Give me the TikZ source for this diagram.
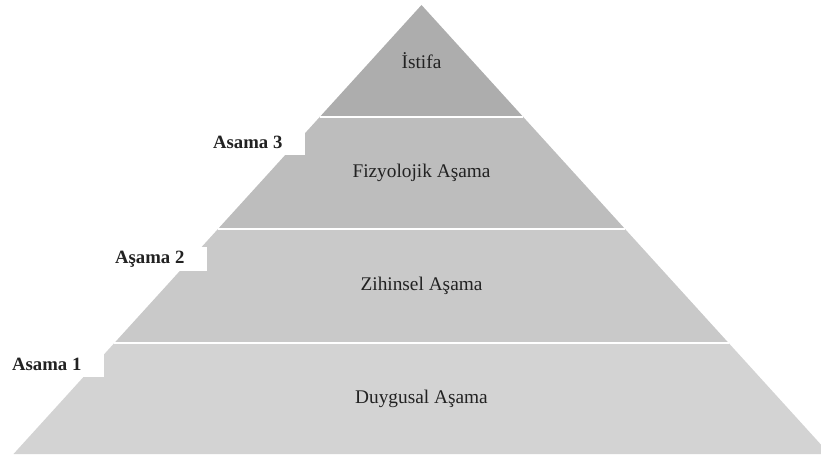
\documentclass[tikz,border=0pt]{standalone}
\usepackage{fontspec}
\setmainfont{Liberation Serif}
\usetikzlibrary{calc}
\definecolor{tier0}{HTML}{ADADAD}
\definecolor{tier1}{HTML}{BDBDBD}
\definecolor{tier2}{HTML}{C9C9C9}
\definecolor{tier3}{HTML}{D3D3D3}
\definecolor{ink}{HTML}{222222}

\begin{document}
\begin{tikzpicture}[x=0.03cm,y=-0.03cm,
    tiertext/.style={text=ink,font=\fontsize{16.5}{18}\selectfont},
    stepbox/.style={fill=white,text=ink,anchor=south east,inner sep=0pt,
      minimum width=3.42cm,minimum height=0.72cm,font=\bfseries\fontsize{16}{18}\selectfont}]
      \useasboundingbox(0,0)rectangle(821,461);
      \clip(0,0)rectangle(821,461);
      \coordinate(T)at(421.5,5);\coordinate(L)at(13.5,454);\coordinate(R)at(829.5,454);
      \foreach \i/\t in{1/0.2494,2/0.4989,3/0.7528}{
        \coordinate(L\i)at($(T)!\t!(L)$);\coordinate(R\i)at($(T)!\t!(R)$);
      }
      % tiers, top to bottom
      \fill[tier0](T)--(R1)--(L1)--cycle;
      \fill[tier1](L1)--(R1)--(R2)--(L2)--cycle;
      \fill[tier2](L2)--(R2)--(R3)--(L3)--cycle;
      \fill[tier3](L3)--(R3)--(R)--(L)--cycle;
      \draw[white,line width=2pt](L1)--(R1) (L2)--(R2) (L3)--(R3);
      \node(istifa)[tiertext]at(421.5,61){İstifa};
      \node(fizyo)[tiertext]at(421.5,173){Fizyolojik Aşama};
      \node(zihin)[tiertext]at(421.5,286){Zihinsel Aşama};
      \node(duygu)[tiertext]at(421.5,399){Duygusal Aşama};
      % step labels
      \node(s3)[stepbox]at(305,155){Asama 3};
      \node(s2)[stepbox]at(207,271){Aşama 2};
      \node(s1)[stepbox]at(104,377){Asama 1};
    \end{tikzpicture}
\end{document}
